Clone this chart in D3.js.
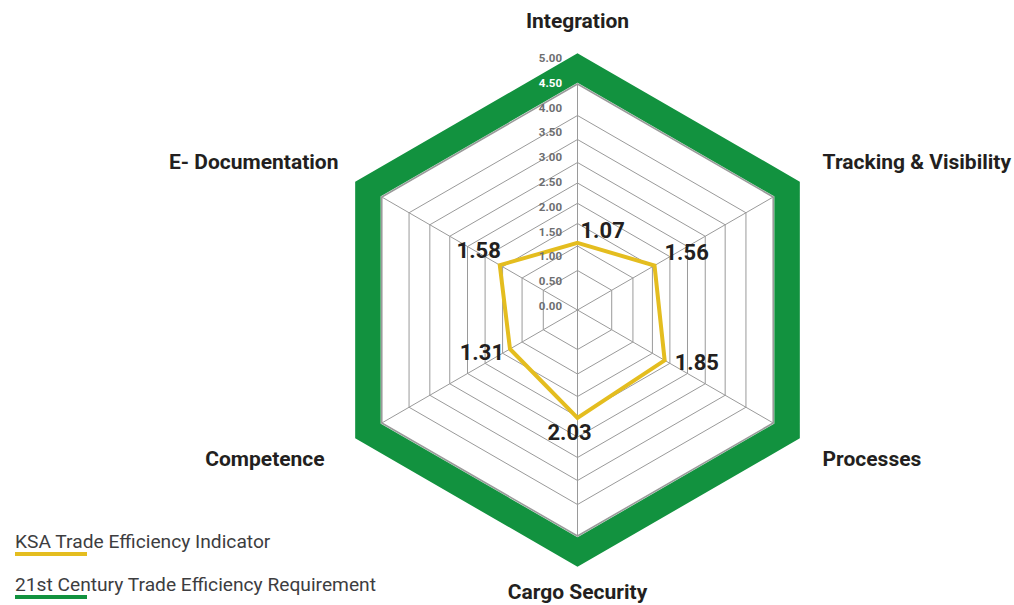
<!DOCTYPE html>
<html><head><meta charset="utf-8">
<script src="https://cdn.jsdelivr.net/npm/d3@7"></script>
<style>
html,body{margin:0;padding:0;background:#fff;}
svg{display:block;}
</style></head>
<body>
<svg id="chart" width="1014" height="605"></svg>
<script>
const categories = ["Integration","Tracking & Visibility","Processes","Cargo Security","Competence","E- Documentation"];
const ksaValues = [1.07, 1.56, 1.85, 2.03, 1.31, 1.58];
const requirementValues = [5, 5, 5, 5, 5, 5];
const tickValues = [0, 0.5, 1, 1.5, 2, 2.5, 3, 3.5, 4, 4.5, 5];
const tickLabels = ["0.00","0.50","1.00","1.50","2.00","2.50","3.00","3.50","4.00","4.50","5.00"];
const seriesNames = ["KSA Trade Efficiency Indicator", "21st Century Trade Efficiency Requirement"];

const W = 1014, H = 605;
const cx = 577.5, cy = 310;
const ringRadii = [0, 39.5, 64, 86.5, 106.7, 127, 147.5, 170.5, 194.5, 226, 242];
const catLabelRadius = [289, 283, 283, 282, 292, 276];
const GREEN = "#12923f", YELLOW = "#e4bd1f", GRID = "#9a9a9a";
const FONT = "Roboto, sans-serif";

const svg = d3.select("#chart");
const g = svg.append("g").attr("transform", `translate(${cx},${cy})`);

const r = d3.scaleLinear().domain(tickValues).range(ringRadii);
const angle = d3.scalePoint().domain(categories).range([0, 2 * Math.PI * (categories.length - 1) / categories.length]);
const labelY = d3.scaleLinear().domain([0, 5]).range([-4, -252]);

const radial = d3.lineRadial().angle((d, i) => angle(categories[i])).radius(d => r(d)).curve(d3.curveLinearClosed);

// rings
g.selectAll(".ring").data(tickValues.filter(v => v > 0 && v < 5)).join("path")
  .attr("d", v => radial(categories.map(() => v)))
  .attr("fill", "none").attr("stroke", GRID)
  .attr("stroke-width", v => v === 4.5 ? 1.6 : 1);

// spokes
g.selectAll(".spoke").data(categories).join("line")
  .attr("x1", 0).attr("y1", 0)
  .attr("x2", c => r(4.5) * Math.sin(angle(c)))
  .attr("y2", c => -r(4.5) * Math.cos(angle(c)))
  .attr("stroke", GRID).attr("stroke-width", 1);

// requirement (green)
g.append("path").attr("d", radial(requirementValues))
  .attr("fill", "none").attr("stroke", GREEN).attr("stroke-width", 25.5)
  .attr("stroke-linejoin", "miter");

// KSA (yellow)
g.append("path").attr("d", radial(ksaValues))
  .attr("fill", "none").attr("stroke", YELLOW).attr("stroke-width", 4)
  .attr("stroke-linejoin", "miter");

// tick labels
g.selectAll(".tick").data(tickValues).join("text")
  .attr("x", -15.5).attr("y", v => labelY(v))
  .attr("text-anchor", "end").attr("dominant-baseline", "central")
  .attr("font-family", FONT).attr("font-weight", "bold").attr("font-size", 11.5)
  .attr("fill", v => v === 4.5 ? "#ffffff" : "#6d6e70")
  .text((v, i) => tickLabels[i]);

// value labels
g.selectAll(".val").data(ksaValues).join("text")
  .each(function (v, i) {
    const a = angle(categories[i]);
    const rr = r(v);
    const x = rr * Math.sin(a), y = -rr * Math.cos(a);
    const s = Math.sin(a);
    let dx, dy, anchor;
    if (Math.abs(s) < 0.01) {
      if (y < 0) { dx = 3; dy = -12; anchor = "start"; }
      else { dx = -8; dy = 15; anchor = "middle"; }
    } else if (s > 0) { dx = 10; dy = y < 0 ? -13 : 2; anchor = "start"; }
    else if (y < 0) { dx = 1; dy = -15; anchor = "end"; }
    else { dx = -6; dy = 4; anchor = "end"; }
    d3.select(this).attr("x", x + dx).attr("y", y + dy).attr("text-anchor", anchor);
  })
  .attr("dominant-baseline", "central")
  .attr("font-family", FONT).attr("font-weight", "bold").attr("font-size", 22)
  .attr("fill", "#231f20")
  .text(v => v.toFixed(2));

// category labels
g.selectAll(".cat").data(categories).join("text")
  .each(function (c, i) {
    const a = angle(c);
    const s = Math.sin(a), co = -Math.cos(a);
    const R = catLabelRadius[i];
    let x, y, anchor;
    if (Math.abs(s) < 0.01) { x = 0; y = co * R; anchor = "middle"; }
    else { x = s * R; y = co * 297; anchor = s > 0 ? "start" : "end"; }
    d3.select(this).attr("x", x).attr("y", y).attr("text-anchor", anchor);
  })
  .attr("dominant-baseline", "central")
  .attr("font-family", FONT).attr("font-weight", "bold").attr("font-size", 21)
  .attr("fill", "#231f20")
  .text(c => c);

// legend
const legend = svg.append("g").attr("transform", "translate(15,0)");
const legendColors = [YELLOW, GREEN];
const legendY = [541, 584];
seriesNames.forEach((name, i) => {
  legend.append("text").attr("x", 0).attr("y", legendY[i]).attr("dominant-baseline", "central")
    .attr("font-family", FONT).attr("font-size", 19.2).attr("fill", "#3d3d3f")
    .text(name);
  legend.append("rect").attr("x", 0).attr("y", legendY[i] + 11).attr("width", 72).attr("height", 4)
    .attr("fill", legendColors[i]);
});
</script>
</body></html>
